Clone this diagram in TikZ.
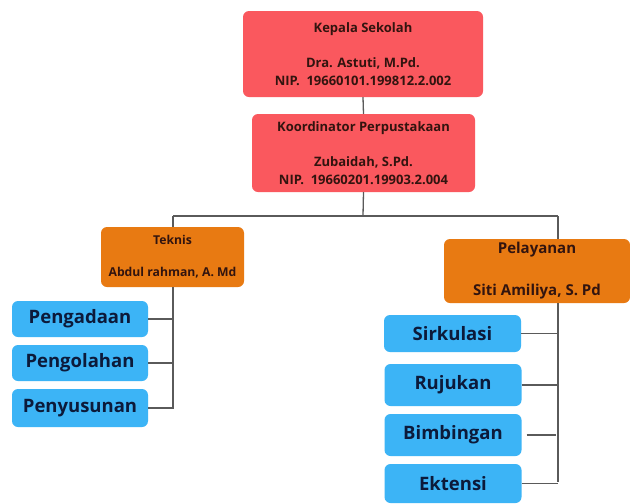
\documentclass[tikz,border=0pt]{standalone}
\usepackage{fontspec}
\setmainfont{Open Sans}
\definecolor{redbox}{RGB}{250,88,94}
\definecolor{orangebox}{RGB}{232,122,18}
\definecolor{bluebox}{RGB}{60,180,246}
\definecolor{darktxt}{RGB}{50,20,15}
\definecolor{navytxt}{RGB}{12,26,58}
\definecolor{linegray}{RGB}{90,90,90}
\tikzset{
  base/.style={rectangle, rounded corners=6pt, inner sep=0pt, align=center, font=\bfseries},
  redstyle/.style={base, fill=redbox, text=darktxt, font=\bfseries\fontsize{13}{17.5}\selectfont},
  orangestyle/.style={base, fill=orangebox, text=darktxt},
  bluestyle/.style={base, fill=bluebox, text=navytxt, font=\bfseries\fontsize{18.5}{22}\selectfont, minimum width=137pt},
  conn/.style={draw=linegray, line width=1.3pt}
}
\begin{document}
\begin{tikzpicture}[x=1pt,y=-1pt]
\useasboundingbox[fill=white] (0,0) rectangle (630,504);
% red boxes
\node[redstyle, minimum width=240pt, minimum height=86pt] (kepala) at (363,54)
  {Kepala Sekolah\\[17.5pt]Dra. Astuti, M.Pd.\\NIP.\ \ 19660101.199812.2.002};
\node[redstyle, minimum width=223pt, minimum height=78pt] (koord) at (363.5,153)
  {Koordinator Perpustakaan\\[17.5pt]Zubaidah, S.Pd.\\NIP.\ \ 19660201.19903.2.004};
% orange boxes
\node[orangestyle, font=\bfseries\fontsize{12.2}{16}\selectfont, minimum width=143pt, minimum height=60pt] (teknis) at (172.5,257)
  {Teknis\\[16pt]Abdul rahman, A. Md};
\node[orangestyle, font=\bfseries\fontsize{15}{21}\selectfont, minimum width=186pt, minimum height=64pt] (pelayanan) at (537,271)
  {Pelayanan\\[21pt]Siti Amiliya, S. Pd};
% blue boxes left
\node[bluestyle, minimum width=136pt, minimum height=36pt] (pengadaan) at (80,319) {Pengadaan};
\node[bluestyle, minimum width=136pt, minimum height=36pt] (pengolahan) at (80,363) {Pengolahan};
\node[bluestyle, minimum width=136pt, minimum height=38pt] (penyusunan) at (80,408) {Penyusunan};
% blue boxes right
\node[bluestyle, minimum height=37pt] (sirkulasi) at (452.5,333.5) {Sirkulasi};
\node[bluestyle, minimum height=42pt] (rujukan) at (453,385) {Rujukan};
\node[bluestyle, minimum height=42pt] (bimbingan) at (453,435) {Bimbingan};
\node[bluestyle, minimum height=39pt] (ektensi) at (453,483.5) {Ektensi};
% coordinates
\coordinate (split) at (363,216);
\coordinate (lsplit) at (173,216);
\coordinate (rsplit) at (558,216);
\coordinate (lend) at (173,409);
\coordinate (rend) at (558,482);
% connectors
\draw[conn] (kepala.south) -- (koord.north);
\draw[conn] (koord.south) -- (split);
\draw[conn] (lsplit) -- (rsplit);
\draw[conn] (lsplit) -- (teknis.north -| lsplit);
\draw[conn] (rsplit) -- (pelayanan.north -| rsplit);
\draw[conn] (teknis.south -| lend) -- (lend);
\draw[conn] (pengadaan.east) -- (pengadaan.east -| lend);
\draw[conn] (pengolahan.east) -- (pengolahan.east -| lend);
\draw[conn] (penyusunan.east) -- (penyusunan.east -| lend);
\draw[conn] (pelayanan.south -| rend) -- (rend);
\draw[conn] (sirkulasi.east) -- (sirkulasi.east -| rend);
\draw[conn] (rujukan.east) -- (rujukan.east -| rend);
\draw[conn] ([xshift=5pt]bimbingan.east) -- ([xshift=-2pt]bimbingan.east -| rend);
\draw[conn] (ektensi.east) -- (ektensi.east -| rend);
\end{tikzpicture}
\end{document}
